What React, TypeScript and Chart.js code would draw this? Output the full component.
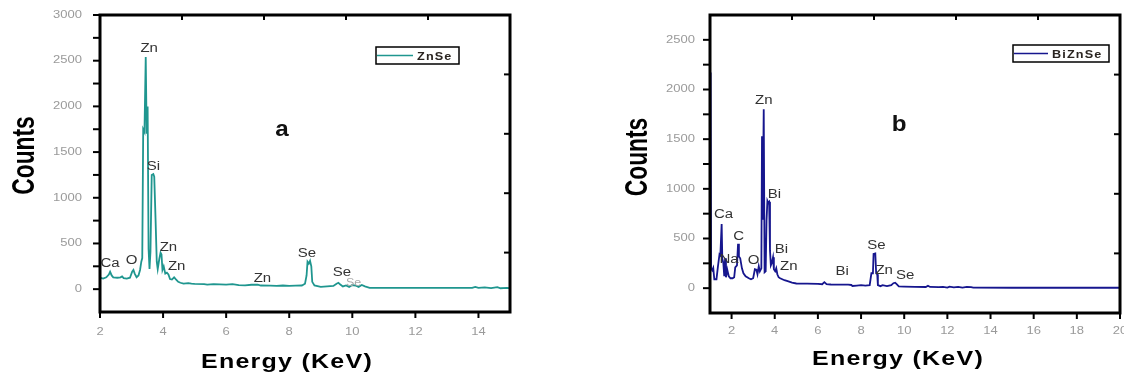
import React, { useEffect, useRef } from "react";
import { Chart, registerables } from "chart.js";
Chart.register(...registerables);

// ---------- Panel a : ZnSe ----------
const energyA = [
  2.0, 2.1, 2.2, 2.28, 2.32, 2.37, 2.42, 2.55, 2.65, 2.7, 2.75, 2.85, 2.95, 3.02, 3.06, 3.1, 3.16, 3.22, 3.27,
  3.31, 3.34, 3.37, 3.41, 3.45, 3.48, 3.51, 3.54, 3.57, 3.6, 3.64, 3.69, 3.72, 3.76, 3.8, 3.83, 3.88, 3.92,
  3.95, 3.98, 4.02, 4.07, 4.12, 4.17, 4.22, 4.28, 4.35, 4.4, 4.48, 4.55, 4.65, 4.8, 4.9, 5.0, 5.3, 5.4, 5.6,
  5.8, 6.0, 6.2, 6.4, 6.6, 6.8, 7.0, 7.1, 7.4, 7.6, 7.8, 8.0, 8.2, 8.4, 8.5, 8.55, 8.58, 8.62, 8.66, 8.7,
  8.73, 8.8, 9.0, 9.2, 9.4, 9.5, 9.56, 9.62, 9.7, 9.8, 9.9, 10.0, 10.1, 10.2, 10.3, 10.4, 10.55, 11.0, 12.0,
  13.0, 13.8, 13.9, 14.0, 14.2, 14.4, 14.6, 14.7, 14.9, 15.0,
];
const countsA = [
  125, 115, 130, 160, 190, 150, 130, 125, 130, 140, 120, 115, 125, 190, 210, 170, 130, 150, 210,
  300, 340, 1750, 1720, 2540, 1700, 2000, 440, 220, 410, 1250, 1260, 1230, 780, 300, 220, 330, 400,
  380, 210, 250, 170, 180, 160, 110, 105, 130, 110, 80, 70, 60, 65, 60, 58, 55, 50, 55,
  52, 50, 55, 45, 42, 48, 50, 40, 38, 36, 40, 35, 38, 40, 60, 150, 300, 280, 310, 250,
  80, 40, 25, 30, 35, 60, 70, 50, 30, 40, 25, 45, 40, 25, 45, 30, 15, 15, 14,
  14, 14, 25, 15, 20, 12, 22, 10, 14, 10,
];
const xTicksA = [2, 4, 6, 8, 10, 12, 14];
const yTicksA = [0, 250, 500, 750, 1000, 1250, 1500, 1750, 2000, 2250, 2500, 2750, 3000];
const yLabelsA = [0, 500, 1000, 1500, 2000, 2500, 3000];
const peakNamesA = ["Zn", "Si", "Zn", "Zn", "Ca", "O", "Zn", "Se", "Se"];
const peakXA = [3.56, 3.69, 4.17, 4.43, 2.32, 3.0, 7.15, 8.56, 9.67];
const peakYA = [2636, 1338, 456, 244, 274, 310, 117, 383, 178];
const fadedNamesA = ["Se"];
const fadedXA = [10.04];
const fadedYA = [69];

// ---------- Panel b : BiZnSe ----------
const energyB = [
  1.03, 1.05, 1.1, 1.15, 1.2, 1.3, 1.37, 1.44, 1.48, 1.54, 1.57, 1.62, 1.66, 1.7, 1.74, 1.8, 1.87, 1.95,
  2.05, 2.12, 2.17, 2.25, 2.3, 2.34, 2.4, 2.48, 2.55, 2.65, 2.8, 2.9, 3.0, 3.08, 3.15, 3.2, 3.26, 3.31,
  3.38, 3.41, 3.44, 3.49, 3.53, 3.58, 3.62, 3.66, 3.7, 3.74, 3.78, 3.82, 3.86, 3.92, 3.96, 4.02, 4.07,
  4.12, 4.18, 4.25, 4.35, 4.45, 4.6, 4.8, 5.0, 5.5, 6.0, 6.2, 6.3, 6.4, 6.6, 7.0, 7.4, 7.55, 7.6, 7.8,
  8.0, 8.2, 8.4, 8.48, 8.55, 8.58, 8.66, 8.7, 8.75, 8.78, 8.9, 9.0, 9.2, 9.4, 9.5, 9.58, 9.65, 9.75,
  10.0, 10.5, 11.0, 11.1, 11.2, 11.6, 11.8, 12.0, 12.1, 12.3, 12.5, 12.7, 12.9, 13.1, 13.2, 15.0, 20.0,
];
const countsB = [
  2170, 200, 180, 205, 90, 90, 222, 340, 330, 645, 300, 250, 120, 300, 110, 185, 120, 100,
  100, 110, 210, 230, 447, 320, 300, 200, 150, 120, 100, 90, 100, 190, 185, 140, 220, 170,
  200, 1530, 690, 1800, 160, 170, 680, 880, 860, 870, 380, 230, 250, 310, 190, 170, 200,
  140, 110, 100, 90, 80, 70, 55, 47, 45, 44, 40, 60, 40, 37, 36, 35, 32, 22, 26,
  30, 25, 30, 150, 150, 345, 350, 150, 140, 30, 20, 30, 20, 30, 50, 55, 40, 18,
  16, 14, 12, 25, 12, 10, 12, 5, 15, 8, 12, 6, 12, 10, 5, 4, 4,
];
const xTicksB = [2, 4, 6, 8, 10, 12, 14, 16, 18, 20];
const yTicksB = [0, 250, 500, 750, 1000, 1250, 1500, 1750, 2000, 2250, 2500];
const yLabelsB = [0, 500, 1000, 1500, 2000, 2500];
const peakNamesB = ["Zn", "Bi", "Ca", "C", "Na", "O", "Bi", "Zn", "Bi", "Se", "Zn", "Se"];
const peakXB = [3.49, 3.99, 1.63, 2.33, 1.88, 3.02, 4.31, 4.65, 7.13, 8.71, 9.07, 10.05];
const peakYB = [1892, 944, 743, 514, 289, 279, 390, 215, 164, 423, 178, 121];

const decorTicks = [1, 2, 3, 4];

type Panel = {
  name: string;
  color: string;
  energy: number[];
  counts: number[];
  xMin: number;
  xMax: number;
  yMin: number;
  yMax: number;
  xTicks: number[];
  yTicks: number[];
  yLabels: number[];
  names: string[];
  px: number[];
  py: number[];
  fNames: string[];
  fx: number[];
  fy: number[];
  letter: string;
  letterX: number;
  letterY: number;
  left: number;
  right: number;
  bottom: number;
  yLabelGap: number;
  xLabelGap: number;
  countsDx: number;
  countsDy: number;
  energyDx: number;
  energyY: number;
  legRight: number;
  legTop: number;
  legW: number;
  legLine: number;
};

const FONT = '"Liberation Sans", Arial, sans-serif';

function sText(ctx: CanvasRenderingContext2D, t: string, x: number, y: number, align: CanvasTextAlign, sx = 1.3) {
  ctx.save();
  ctx.translate(x, y);
  ctx.scale(sx, 1);
  ctx.textAlign = align;
  ctx.fillText(t, 0, 0);
  ctx.restore();
}

function seg(ctx: CanvasRenderingContext2D, x1: number, y1: number, x2: number, y2: number) {
  ctx.beginPath();
  ctx.moveTo(x1, y1);
  ctx.lineTo(x2, y2);
  ctx.stroke();
}

function makeChart(canvas: HTMLCanvasElement, p: Panel) {
  const decor = {
    id: "decor",
    afterDatasetsDraw(chart: any) {
      const ctx: CanvasRenderingContext2D = chart.ctx;
      const a = chart.chartArea;
      const sx = chart.scales.x, sy = chart.scales.y, sx2 = chart.scales.x2, sy2 = chart.scales.y2;
      ctx.save();
      // peak annotations
      ctx.textBaseline = "middle";
      ctx.fillStyle = "#333";
      ctx.font = `12px ${FONT}`;
      p.names.forEach((n, i) => sText(ctx, n, sx.getPixelForValue(p.px[i]), sy.getPixelForValue(p.py[i]), "center", 1.25));
      ctx.fillStyle = "#aaa";
      ctx.font = `10px ${FONT}`;
      p.fNames.forEach((n, i) => sText(ctx, n, sx.getPixelForValue(p.fx[i]), sy.getPixelForValue(p.fy[i]), "center", 1.25));
      // panel letter
      ctx.fillStyle = "#111";
      ctx.font = `bold 22px ${FONT}`;
      sText(ctx, p.letter, sx.getPixelForValue(p.letterX), sy.getPixelForValue(p.letterY), "center", 1.1);
      // frame
      ctx.strokeStyle = "#000";
      ctx.lineWidth = 3;
      ctx.strokeRect(a.left, a.top, a.right - a.left, a.bottom - a.top);
      // ticks
      ctx.lineWidth = 2;
      sy.ticks.forEach((t: any) => {
        const y = sy.getPixelForValue(t.value);
        seg(ctx, a.left - 7, y, a.left, y);
      });
      sx.ticks.forEach((t: any) => {
        const x = sx.getPixelForValue(t.value);
        seg(ctx, x, a.bottom, x, a.bottom + 6);
      });
      sx2.ticks.forEach((t: any) => {
        const x = sx2.getPixelForValue(t.value);
        seg(ctx, x, a.top, x, a.top + 5);
      });
      sy2.ticks.forEach((t: any) => {
        const y = sy2.getPixelForValue(t.value);
        seg(ctx, a.right - 6, y, a.right, y);
      });
      // tick labels
      ctx.fillStyle = "#9a9a9a";
      ctx.font = `10px ${FONT}`;
      ctx.textBaseline = "middle";
      p.yLabels.forEach((v) => sText(ctx, String(v), a.left - p.yLabelGap, sy.getPixelForValue(v), "right", 1.3));
      p.xTicks.forEach((v) => sText(ctx, String(v), sx.getPixelForValue(v), a.bottom + p.xLabelGap, "center", 1.3));
      // axis titles
      ctx.fillStyle = "#000";
      ctx.font = `bold 24px ${FONT}`;
      ctx.save();
      ctx.translate(a.left - p.countsDx, (a.top + a.bottom) / 2 - p.countsDy);
      ctx.rotate(-Math.PI / 2);
      ctx.scale(0.95, 1.3);
      ctx.textAlign = "center";
      ctx.fillText("Counts", 0, 0);
      ctx.restore();
      ctx.font = `bold 20px ${FONT}`;
      (ctx as any).letterSpacing = "1px";
      sText(ctx, "Energy (KeV)", (a.left + a.right) / 2 - p.energyDx, p.energyY, "center", 1.25);
      (ctx as any).letterSpacing = "0px";
      // legend
      const lx = a.right - p.legRight, ly = a.top + p.legTop, lh = 17;
      ctx.fillStyle = "#fff";
      ctx.fillRect(lx, ly, p.legW, lh);
      ctx.strokeStyle = "#000";
      ctx.lineWidth = 1.5;
      ctx.strokeRect(lx, ly, p.legW, lh);
      ctx.strokeStyle = p.color;
      ctx.lineWidth = 1.5;
      seg(ctx, lx + 1, ly + lh / 2, lx + p.legLine, ly + lh / 2);
      ctx.fillStyle = "#2a2420";
      ctx.font = `bold 11px ${FONT}`;
      (ctx as any).letterSpacing = "1px";
      sText(ctx, p.name, lx + p.legLine + 4, ly + lh / 2 + 1, "left", 1.15);
      (ctx as any).letterSpacing = "0px";
      ctx.restore();
    },
  };

  const hidden = { display: false };
  return new Chart(canvas, {
    type: "line",
    data: {
      datasets: [
        {
          label: p.name,
          data: p.energy.map((e, i) => ({ x: e, y: p.counts[i] })),
          borderColor: p.color,
          borderWidth: 1.8,
          pointRadius: 0,
          tension: 0,
          fill: false,
        },
      ],
    },
    options: {
      animation: false,
      responsive: false,
      maintainAspectRatio: false,
      devicePixelRatio: 1,
      layout: { padding: 0 },
      plugins: { legend: hidden, tooltip: { enabled: false } },
      scales: {
        x: {
          type: "linear",
          position: "bottom",
          min: p.xMin,
          max: p.xMax,
          ticks: hidden,
          grid: hidden,
          border: hidden,
          afterBuildTicks: (s: any) => { s.ticks = p.xTicks.map((v) => ({ value: v })); },
          afterFit: (s: any) => { s.height = p.bottom; },
        },
        y: {
          type: "linear",
          position: "left",
          min: p.yMin,
          max: p.yMax,
          ticks: hidden,
          grid: hidden,
          border: hidden,
          afterBuildTicks: (s: any) => { s.ticks = p.yTicks.map((v) => ({ value: v })); },
          afterFit: (s: any) => { s.width = p.left; },
        },
        x2: {
          type: "linear",
          axis: "x",
          position: "top",
          min: 0,
          max: 5,
          ticks: hidden,
          grid: hidden,
          border: hidden,
          afterBuildTicks: (s: any) => { s.ticks = decorTicks.map((v) => ({ value: v })); },
          afterFit: (s: any) => { s.height = 15; },
        },
        y2: {
          type: "linear",
          axis: "y",
          position: "right",
          min: 0,
          max: 5,
          ticks: hidden,
          grid: hidden,
          border: hidden,
          afterBuildTicks: (s: any) => { s.ticks = decorTicks.map((v) => ({ value: v })); },
          afterFit: (s: any) => { s.width = p.right; },
        },
      },
    } as any,
    plugins: [decor],
  });
}

const panelA: Panel = {
  name: "ZnSe", color: "#1f968f", energy: energyA, counts: countsA,
  xMin: 2, xMax: 15, yMin: -250, yMax: 3000, xTicks: xTicksA, yTicks: yTicksA, yLabels: yLabelsA,
  names: peakNamesA, px: peakXA, py: peakYA, fNames: fadedNamesA, fx: fadedXA, fy: fadedYA,
  letter: "a", letterX: 7.77, letterY: 1747,
  left: 100, right: 50, bottom: 63, yLabelGap: 18, xLabelGap: 20,
  countsDx: 75, countsDy: 8, energyDx: 18, energyY: 362,
  legRight: 134, legTop: 32, legW: 83, legLine: 37,
};

const panelB: Panel = {
  name: "BiZnSe", color: "#16168e", energy: energyB, counts: countsB,
  xMin: 1, xMax: 20, yMin: -250, yMax: 2750, xTicks: xTicksB, yTicks: yTicksB, yLabels: yLabelsB,
  names: peakNamesB, px: peakXB, py: peakYB, fNames: [], fx: [], fy: [],
  letter: "b", letterX: 9.77, letterY: 1643,
  left: 150, right: 4, bottom: 62, yLabelGap: 15, xLabelGap: 18,
  countsDx: 72, countsDy: 7, energyDx: 17, energyY: 359,
  legRight: 107, legTop: 30, legW: 96, legLine: 35,
};

export default function App() {
  const refA = useRef<HTMLCanvasElement>(null);
  const refB = useRef<HTMLCanvasElement>(null);
  useEffect(() => {
    const ca = makeChart(refA.current!, panelA);
    const cb = makeChart(refB.current!, panelB);
    return () => {
      ca.destroy();
      cb.destroy();
    };
  }, []);
  return (
    <div style={{ position: "absolute", left: 0, top: 0, width: 1124, height: 375, background: "#fff" }}>
      <canvas ref={refA} width={560} height={375} style={{ position: "absolute", left: 0, top: 0, width: 560, height: 375 }} />
      <canvas ref={refB} width={564} height={375} style={{ position: "absolute", left: 560, top: 0, width: 564, height: 375 }} />
    </div>
  );
}
